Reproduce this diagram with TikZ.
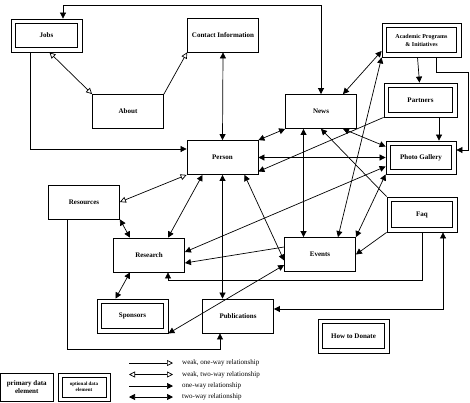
\documentclass[tikz,border=0pt]{standalone}
\usepackage{fontspec}
\setmainfont{Liberation Serif}
\usepackage{tikz}
\usetikzlibrary{
  positioning,
  calc,
  arrows.meta
}
\tikzstyle{primary}=[draw, line width=0.8pt, minimum width=71pt, minimum height=34pt, inner sep=1pt, align=center, font=\fontsize{7}{8}\selectfont\bfseries]
\tikzstyle{optional}=[primary]
\tikzstyle{innerframe}=[line width=0.8pt]
\tikzstyle{conn}=[line width=0.7pt]
\tikzstyle{oneway}=[conn, -{Triangle[length=6pt, width=6pt]}]
\tikzstyle{twoway}=[conn, {Triangle[length=6pt, width=6pt]}-{Triangle[length=6pt, width=6pt]}]
\tikzstyle{weakone}=[conn, -{Triangle[open, length=6pt, width=6pt]}]
\tikzstyle{weaktwo}=[conn, {Triangle[open, length=6pt, width=6pt]}-{Triangle[open, length=6pt, width=6pt]}]
\tikzstyle{legtext}=[anchor=west, inner sep=1pt, font=\fontsize{7}{8}\selectfont]

\begin{document}
\begin{tikzpicture}[x=1pt, y=-1pt]
    \useasboundingbox (0,0) rectangle (470,402);
    \def\gap{5.2} % 二重枠の間隔

    % 主要データ要素
    \node[primary] (contact) at (223,35) {Contact Information};
    \node[primary] (about) at (128,111.5) {About};
    \node[primary] (person) at (222.5,157.5) {Person};
    \node[primary] (news) at (321,111.5) {News};
    \node[primary] (resources) at (84,202) {Resources};
    \node[primary] (research) at (149,255) {Research};
    \node[primary] (events) at (320,254.5) {Events};
    \node[primary] (publications) at (238,316) {Publications};

    % 任意データ要素
    \node[optional, minimum height=33pt] (jobs) at (46.5,35.5) {Jobs};
    \node[optional, minimum width=79pt, font=\fontsize{6}{8}\selectfont\bfseries] (academic) at (421.5,40) {Academic Programs\\\& Initiatives};
    \node[optional, minimum width=73pt] (partners) at (420.5,100) {Partners};
    \node[optional, minimum width=70pt, minimum height=33pt] (photo) at (421,157.5) {Photo Gallery};
    \node[optional, minimum width=70pt, minimum height=35pt] (faq) at (422,214.5) {Faq};
    \node[optional] (sponsors) at (132.5,316) {Sponsors};
    \node[optional] (donate) at (353.5,336) {How to Donate};

    % 内側の枠
    \foreach \n in {jobs, academic, partners, photo, faq, sponsors, donate}
        \draw[innerframe] ([shift={(\gap,\gap)}]\n.north west) rectangle ([shift={(-\gap,-\gap)}]\n.south east);

    % 弱い関係
    \draw[weaktwo] ([xshift=3pt]jobs.south) -- (about.north west);
    \draw[weakone] (about.north east) -- (contact.south west);
    \draw[weaktwo] (person.south west) -- (resources.east);

    % 上を回る線
    \draw[twoway] ([xshift=16.5pt]jobs.north) -- ++(0,-13) -| (news.north);
    \draw[oneway] ([xshift=-16.5pt]jobs.south) |- ([yshift=8.5pt]person.west);
    \draw[twoway] (contact.south) -- (person.north);

    % News, Academic, Partners, Photo Gallery
    \draw[twoway] ([xshift=22pt]news.north) -- ([yshift=-11pt]academic.west);
    \draw[oneway] ([xshift=-4pt]academic.south) -- ([xshift=-1pt]partners.north);
    \draw[oneway] ([xshift=14.5pt]academic.south) -- ++(0,15) -- ++(32,0) |- ([yshift=7.5pt]photo.east);
    \draw[oneway] ([xshift=18.5pt]partners.south) -- ([xshift=18pt]photo.north);
    \draw[oneway] (partners.south west) -- ([yshift=-14pt]person.east);
    \draw[twoway] (person.north east) -- (news.south west);
    \draw[twoway] (person.east) -- (photo.west);
    \draw[twoway] ([xshift=22pt]news.south) -- ([yshift=11pt]photo.west);
    \draw[twoway] ([xshift=-17.5pt]news.south) -- ([xshift=-16.5pt]events.north);
    \draw[oneway] (faq.north west) -- (news.south);
    \draw[twoway] (academic.south west) -- ([xshift=18pt]events.north);
    \draw[twoway] (photo.south west) -- (events.north east);
    \draw[twoway] ([yshift=-9pt]photo.west) -- ([yshift=3pt]research.east);

    % Events, Faq, Research
    \draw[oneway] ([yshift=7.5pt]events.west) -- ([yshift=-8pt]research.east);
    \draw[oneway] (faq.south) -- ++(0,48) -| ([xshift=19pt]research.south);
    \draw[oneway] (faq.south west) -- (events.east);
    \draw[twoway] ([yshift=7pt]publications.east) -| ([xshift=21pt]faq.south);

    % Person から下へ
    \draw[twoway] ([xshift=-20pt]person.south) -- ([xshift=19pt]research.north);
    \draw[twoway] (resources.south east) -- ([xshift=-19pt]research.north);
    \draw[oneway] ([xshift=-17pt]resources.south) -- ++(0,130) -| ([xshift=-18pt]publications.south);
    \draw[twoway] (person.south) -- (person.south |- publications.north);
    \draw[twoway] ([xshift=22pt]person.south) -- ([yshift=-6pt]events.west);
    \draw[twoway] ([xshift=-19pt]research.south) -- ([xshift=-17pt]sponsors.north);
    \draw[twoway] ([yshift=-10.5pt]events.west) -- (sponsors.south east);

    % 凡例
    \node[primary, minimum width=52.5pt, minimum height=28.5pt] (lprimary) at (26.75,387.25) {primary data\\element};
    \node[optional, minimum width=52pt, minimum height=28.5pt, font=\fontsize{5}{6}\selectfont\bfseries] (loptional) at (84,387.25) {optional data\\element};
    \draw[innerframe] ([shift={(4.5,4.5)}]loptional.north west) rectangle ([shift={(-4.5,-4.5)}]loptional.south east);
    \node[legtext] (lweakone) at (181,363) {weak, one-way relationship};
    \node[legtext] (lweaktwo) at (181,374.5) {weak, two-way relationship};
    \node[legtext] (loneway) at (181,386) {one-way relationship};
    \node[legtext] (ltwoway) at (181,397) {two-way relationship};
    \draw[weakone] ([xshift=-52pt]lweakone.west) -- ([xshift=-8pt]lweakone.west);
    \draw[weaktwo] ([xshift=-52pt]lweaktwo.west) -- ([xshift=-8pt]lweaktwo.west);
    \draw[oneway] ([xshift=-52pt]loneway.west) -- ([xshift=-8pt]loneway.west);
    \draw[twoway] ([xshift=-52pt]ltwoway.west) -- ([xshift=-8pt]ltwoway.west);
\end{tikzpicture}
\end{document}
